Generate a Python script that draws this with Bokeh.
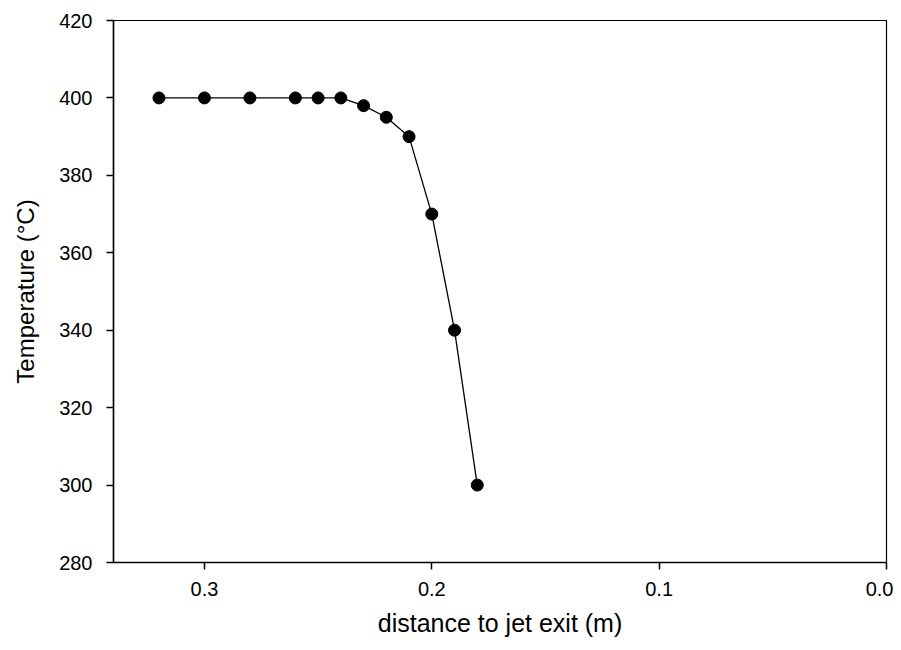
from bokeh.plotting import figure
from bokeh.models import Range1d, FixedTicker
from bokeh.embed import file_html
from bokeh.resources import INLINE

distance = [0.32, 0.30, 0.28, 0.26, 0.25, 0.24, 0.23, 0.22, 0.21, 0.20, 0.19, 0.18]
temperature = [400, 400, 400, 400, 400, 400, 398, 395, 390, 370, 340, 300]
x_ticks = [0.0, 0.1, 0.2, 0.3]
y_ticks = [280, 300, 320, 340, 360, 380, 400, 420]

p = figure(width=893, height=642, output_backend="svg", toolbar_location=None,
           x_range=Range1d(0.34, 0.0), y_range=Range1d(280, 420),
           min_border_left=113, min_border_right=7, min_border_top=20, min_border_bottom=80)
p.grid.visible = False
p.outline_line_color = "black"
p.outline_line_width = 1.2
p.background_fill_color = "white"
p.border_fill_color = "white"

p.line(distance, temperature, line_color="black", line_width=1.3)
p.scatter(distance, temperature, size=12, fill_color="black", line_color="black")

for ax in (p.xaxis[0], p.yaxis[0]):
    ax.axis_line_color = "black"
    ax.axis_line_width = 1.5
    ax.major_tick_line_color = "black"
    ax.major_tick_line_width = 1.5
    ax.major_tick_out = 7
    ax.major_tick_in = 0
    ax.minor_tick_line_color = None
    ax.major_label_text_font = "Liberation Sans"
    ax.major_label_text_font_size = "20px"
    ax.major_label_text_color = "black"
    ax.axis_label_text_font = "Liberation Sans"
    ax.axis_label_text_font_style = "normal"
    ax.axis_label_text_color = "black"

p.xaxis[0].axis_label_text_font_size = "25px"
p.yaxis[0].axis_label_text_font_size = "24px"
p.xaxis[0].ticker = FixedTicker(ticks=x_ticks)
p.yaxis[0].ticker = FixedTicker(ticks=y_ticks)
p.xaxis[0].major_label_overrides = {t: f"{t:.1f}" for t in x_ticks}
p.xaxis[0].major_label_standoff = 12
p.yaxis[0].major_label_standoff = 14
p.xaxis[0].axis_label = "distance to jet exit (m)"
p.yaxis[0].axis_label = "Temperature (°C)"
p.xaxis[0].axis_label_standoff = 10
p.yaxis[0].axis_label_standoff = 17

open("out.html", "w").write(file_html(p, INLINE))
